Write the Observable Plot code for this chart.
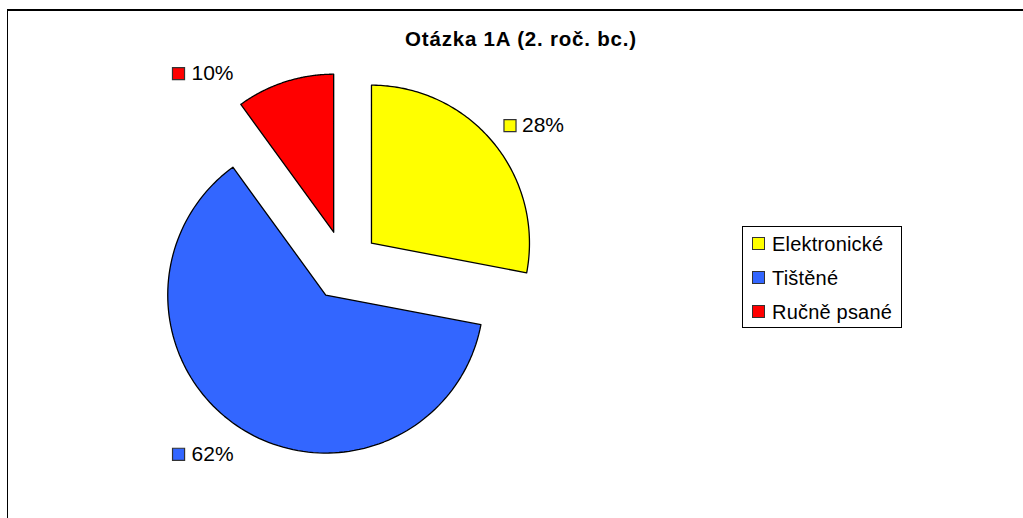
<!DOCTYPE html>
<html>
<head>
<meta charset="utf-8">
<script src="https://cdn.jsdelivr.net/npm/d3@7"></script>
<script src="https://cdn.jsdelivr.net/npm/@observablehq/plot@0.6"></script>
<style>
  html, body { margin: 0; padding: 0; background: #fff; }
  #wrap { position: relative; width: 1023px; height: 518px; overflow: hidden; background: #fff;
          font-family: "Liberation Sans", Arial, sans-serif; }
  #frame { position: absolute; left: 7px; top: 9px; width: 2000px; height: 2000px;
           border-top: 2px solid #000; border-left: 1.5px solid #000; box-sizing: border-box; }
  #title { position: absolute; left: 0; width: 1042px; top: 27px; text-align: center;
           font-weight: bold; font-size: 20.5px; letter-spacing: 0.8px; color: #000; }
  #chart { position: absolute; left: 0; top: 0; }
  #legend { position: absolute; left: 742px; top: 226px; width: 160px; height: 102px;
            border: 1px solid #000; box-sizing: border-box; background: #fff; }
  .li { position: absolute; left: 9px; height: 22px; line-height: 22px; font-size: 20px; letter-spacing: 0.2px; color: #000; white-space: nowrap; }
  .sw { display: inline-block; width: 11px; height: 11px; border: 1px solid #333; vertical-align: middle;
        margin-right: 7px; position: relative; top: -2px; }
</style>
</head>
<body>
<div id="wrap">
  <div id="frame"></div>
  <div id="title"></div>
  <div id="chart"></div>
  <div id="legend"></div>
</div>
<script>
// ---- data ----
const title = "Otázka 1A (2. roč. bc.)";
const categories = ["Elektronické", "Tištěné", "Ručně psané"];
const values = [28, 62, 10];
const labels = ["28%", "62%", "10%"];
const colors = ["#ffff00", "#3366ff", "#ff0000"];

// ---- layout ----
const CX = 344, CY = 265, R = 158, EXPLODE = 35, LABEL_GAP = 14;
const labelNudge = [[0, 2], [0, 4], [-47, 15]];
const FONT = "'Liberation Sans', Arial, sans-serif";
const LABEL_SIZE = 21;

document.getElementById("title").textContent = title;

const total = d3.sum(values);
const ctx = document.createElement("canvas").getContext("2d");
ctx.font = LABEL_SIZE + "px " + FONT;

let acc = 0;
const slices = categories.map((name, i) => {
  const a0 = acc / total * 2 * Math.PI;
  acc += values[i];
  const a1 = acc / total * 2 * Math.PI;
  const m = (a0 + a1) / 2;
  const vx = CX + EXPLODE * Math.sin(m), vy = CY - EXPLODE * Math.cos(m);
  const pts = [{x: vx, y: vy}];
  const n = 120;
  for (let k = 0; k <= n; k++) {
    const a = a0 + (a1 - a0) * k / n;
    pts.push({x: vx + R * Math.sin(a), y: vy - R * Math.cos(a)});
  }
  pts.push({x: vx, y: vy});
  // label
  const px = vx + (R + LABEL_GAP) * Math.sin(m) + labelNudge[i][0];
  const py = vy - (R + LABEL_GAP) * Math.cos(m) + labelNudge[i][1];
  const tw = ctx.measureText(labels[i]).width;
  const cy = Math.cos(m) > 0 ? py - 10 : py + 10;
  let sx, tx;
  if (Math.sin(m) >= 0) { sx = px + 6; tx = px + 18; }
  else { tx = px - tw; sx = tx - 7 - 6; }
  return {name, value: values[i], color: colors[i], label: labels[i], pts, sx, tx, cy};
});

const chart = Plot.plot({
  width: 1023, height: 518,
  margin: 0,
  x: {domain: [0, 1023], range: [0, 1023], axis: null},
  y: {domain: [0, 518], range: [0, 518], axis: null},
  style: {fontFamily: FONT, background: "transparent"},
  marks: [
    ...slices.map(s => Plot.line(s.pts, {x: "x", y: "y", fill: s.color, stroke: "#000", strokeWidth: 1.3, curve: "linear", strokeLinejoin: "round"})),
    Plot.dot(slices, {x: "sx", y: "cy", symbol: "square", r: 6.8, fill: "color", stroke: "#333", strokeWidth: 1.2}),
    Plot.text(slices, {x: "tx", y: "cy", text: "label", textAnchor: "start", fontSize: LABEL_SIZE, fill: "#000", fontFamily: FONT})
  ]
});
document.getElementById("chart").appendChild(chart);

const leg = document.getElementById("legend");
categories.forEach((c, i) => {
  const d = document.createElement("div");
  d.className = "li";
  d.style.top = (6 + i * 34) + "px";
  const sw = document.createElement("span");
  sw.className = "sw";
  sw.style.background = colors[i];
  d.appendChild(sw);
  d.appendChild(document.createTextNode(c));
  leg.appendChild(d);
});
</script>
</body>
</html>
